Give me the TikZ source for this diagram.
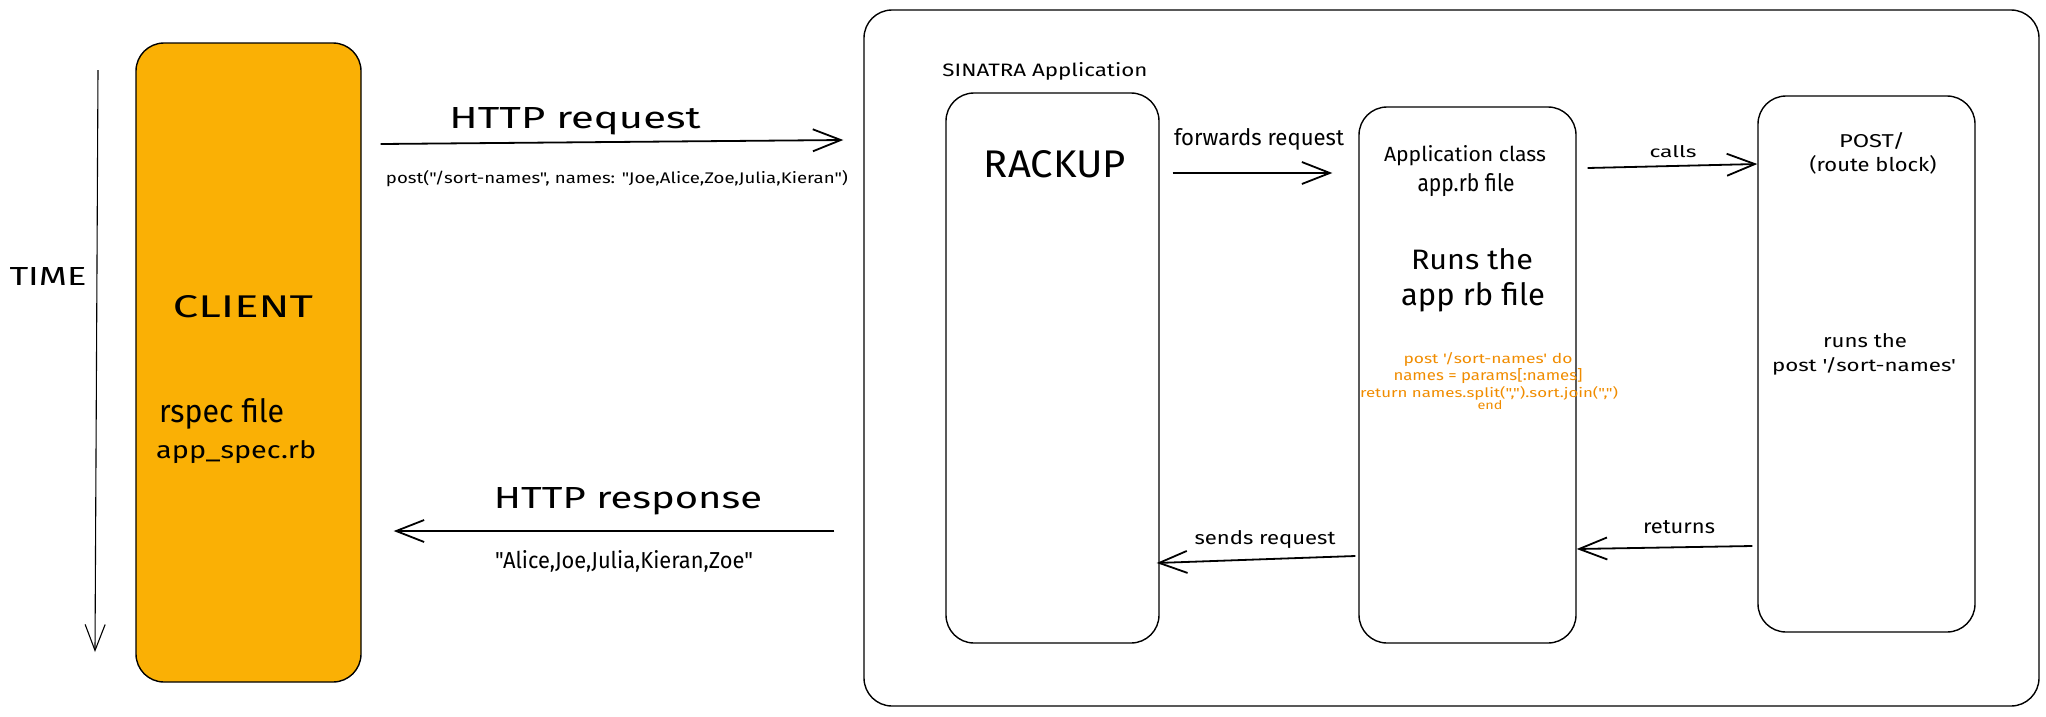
\documentclass[tikz,border=0pt]{standalone}
\usepackage{fontspec}
\usepackage{graphicx}
\newfontfamily\hand[Ligatures=TeXOff]{Fira Sans}
\usetikzlibrary{arrows.meta,calc}
\definecolor{clientfill}{HTML}{FAB005}
\definecolor{codeor}{HTML}{F08C00}
\newcommand{\tx}[3]{\resizebox{#1pt}{#2pt}{\hand #3}}
\begin{document}
\begin{tikzpicture}[x=1pt,y=-1pt,
  box/.style={draw=black,line width=1.4pt,rounded corners=28pt,inner sep=0pt},
  lbl/.style={inner sep=0pt,anchor=base},
  lbll/.style={inner sep=0pt,anchor=base west},
  code/.style={lbl,text=codeor},
  arr/.style={line width=1.8pt,-{Straight Barb[length=28pt,width=22pt]}},
  tarr/.style={line width=1.1pt,-{Straight Barb[length=26pt,width=20pt]}}]
\useasboundingbox (0,0) rectangle (2046,716);
% boxes
\node[box,fill=clientfill,minimum width=225pt,minimum height=639pt] (client) at (248.5,362.5) {};
\node[box,minimum width=1175pt,minimum height=696pt] (sinatra) at (1451.5,358) {};
\node[box,minimum width=213pt,minimum height=550pt] (rack) at (1052.5,368) {};
\node[box,minimum width=217pt,minimum height=536pt] (app) at (1467.5,375) {};
\node[box,minimum width=217pt,minimum height=536pt] (route) at (1866.5,364) {};
% time axis
\node[lbl] (time) at (48,285) {\tx{77}{18}{TIME}};
\coordinate (tA) at (98,70);
\coordinate (tB) at (95,652);
\draw[tarr] (tA) -- (tB);
% client labels
\node[lbl] (clientlbl) at (243,317) {\tx{140}{22}{CLIENT}};
\node[lbll] (rspec) at (159,422) {\tx{125}{24}{rspec file}};
\node[lbll] (specrb) at (156,458) {\tx{160}{18}{app\_spec.rb}};
% http
\node[lbl] (httpreq) at (575,128) {\tx{251}{21}{HTTP request}};
\node[lbl] (postcall) at (617,183) {\tx{462}{13}{post("/sort-names", names: "Joe,Alice,Zoe,Julia,Kieran")}};
\node[lbl] (httpresp) at (628,508) {\tx{268}{21}{HTTP response}};
\node[lbl] (result) at (624,568) {\tx{258}{18}{"Alice,Joe,Julia,Kieran,Zoe"}};
\draw[arr] ([xshift=19pt]client.east |- 0,144) -- ([xshift=-20pt]sinatra.west |- 0,140);
\draw[arr] ([xshift=-29pt]sinatra.west |- 0,531) -- ([xshift=32pt]client.east |- 0,531);
% sinatra
\node[lbl] (sinlbl) at (1045,76) {\tx{205}{14}{SINATRA Application}};
\node[lbl] (racklbl) at (1055,177) {\tx{142}{27}{RACKUP}};
\node[lbl] (fwd) at (1259,145) {\tx{170}{17}{forwards request}};
\node[lbl] (appcls) at (1465,161) {\tx{162}{16}{Application class}};
\node[lbl] (apprb) at (1466,191) {\tx{97}{18}{app.rb file}};
\node[lbl] (runs1) at (1472,269) {\tx{122}{21}{Runs the}};
\node[lbl] (runs2) at (1473,305) {\tx{144}{23}{app rb file}};
\node[lbl] (calls) at (1673,157) {\tx{47}{12}{calls}};
\node[lbl] (postlbl) at (1872,147) {\tx{66}{15}{POST/}};
\node[lbl] (routeblk) at (1873,171) {\tx{127}{16}{(route block)}};
\node[lbl] (runsthe) at (1865,347) {\tx{84}{14}{runs the}};
\node[lbl] (postsort) at (1864,371) {\tx{184}{14}{post '/sort-names'}};
\node[code] (c1) at (1488,363) {\tx{169}{11}{post '/sort-names' do}};
\node[code] (c2) at (1488,380) {\tx{189}{12}{names = params[:names]}};
\node[code] (c3) at (1489,397) {\tx{258}{11}{return names.split(",").sort.join(",")}};
\node[code] (c4) at (1490,409) {\tx{25}{9}{end}};
\node[lbl] (sends) at (1265,544) {\tx{141}{14}{sends request}};
\node[lbl] (returns) at (1679,533) {\tx{72}{13}{returns}};
\draw[arr] ([xshift=13pt]rack.east |- 0,173) -- ([xshift=-26pt]app.west |- 0,173);
\draw[arr] ([xshift=11pt]app.east |- 0,168) -- (route.west |- 0,164);
\draw[arr] ([xshift=-3pt]app.west |- 0,556) -- ([xshift=-3pt]rack.east |- 0,563);
\draw[arr] ([xshift=-5pt]route.west |- 0,546) -- (app.east |- 0,549);
\end{tikzpicture}
\end{document}
